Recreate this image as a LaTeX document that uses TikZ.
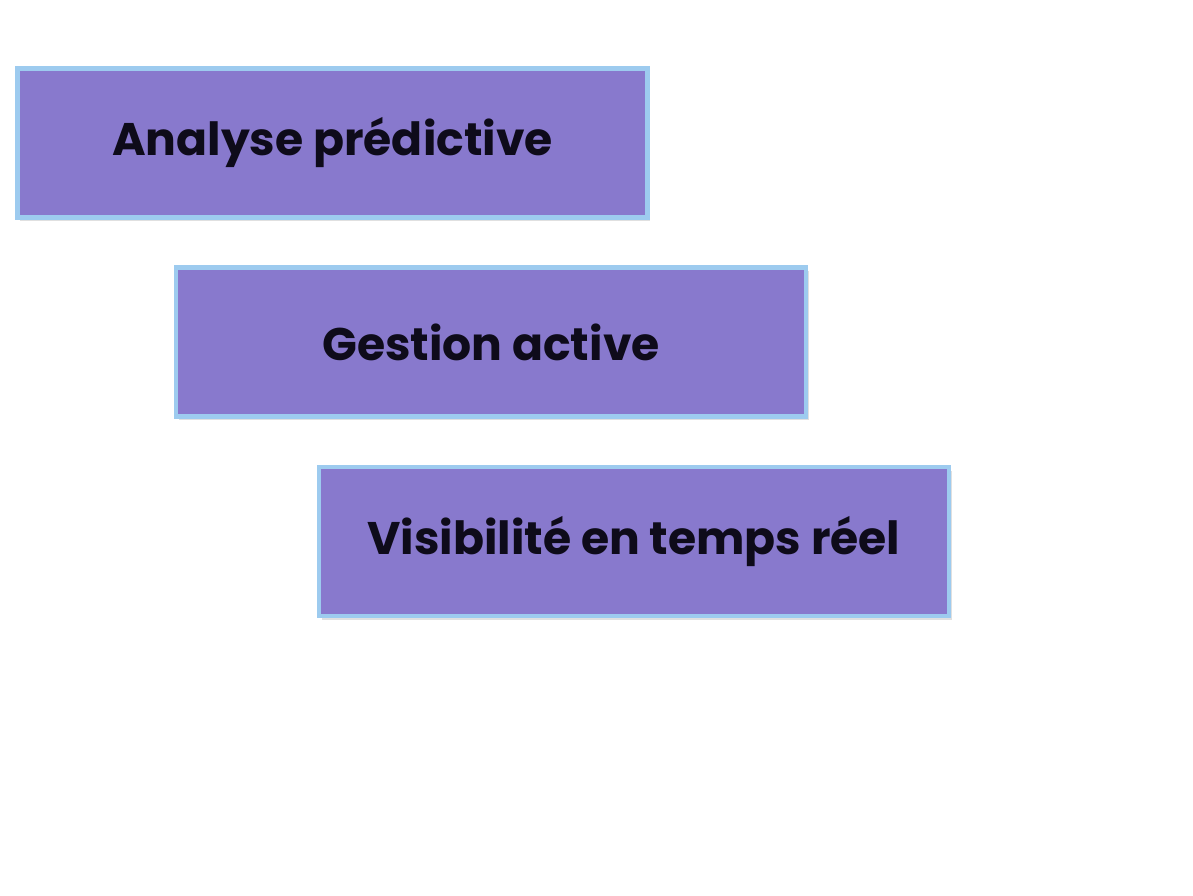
\documentclass[tikz,border=0pt]{standalone}
\usepackage{fontspec}
\setmainfont{Poppins}
\usetikzlibrary{positioning}
\definecolor{boxfill}{HTML}{8879CD}
\definecolor{boxline}{HTML}{9DCBEF}
\definecolor{boxtext}{HTML}{0E0B1A}

\begin{document}
\begin{tikzpicture}[
  stage/.style={draw=boxline, fill=boxfill, rectangle, line width=2.8pt,
    minimum width=12.6cm, minimum height=2.98cm, align=center,
    text=boxtext, font=\fontsize{26}{31}\selectfont\bfseries},
  shade/.style={fill=black!12, rectangle, minimum width=12.6cm, minimum height=2.98cm},
]
\useasboundingbox (0,0) rectangle (23.86,-17.92);

%==== Schatten ====
\node[shade] at (6.70,-2.93) {};
\node[shade] at (9.87,-6.91) {};
\node[shade] at (12.73,-10.90) {};

%==== Stufen ====
\node[stage] (pred) at (6.65,-2.86)  {Analyse prédictive};
\node[stage] (gest) at (9.82,-6.84)  {Gestion active};
\node[stage] (visi) at (12.68,-10.83) {Visibilité en temps réel};

\end{tikzpicture}
\end{document}
